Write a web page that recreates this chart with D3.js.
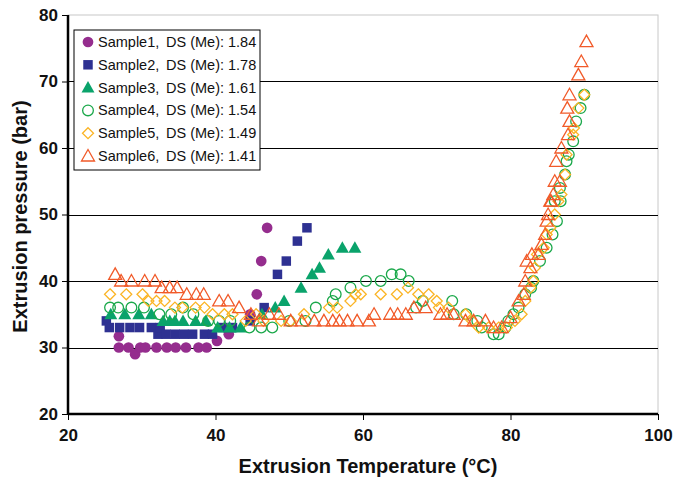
<!DOCTYPE html>
<html>
<head>
<meta charset="utf-8">
<script src="https://cdn.jsdelivr.net/npm/d3@7"></script>
<style>
  body { margin: 0; background: #fff; }
  svg { font-family: "Liberation Sans", Arial, sans-serif; }
</style>
</head>
<body>
<div class="chart"></div>
<script>
const xTicks = [20, 40, 60, 80, 100];
const yTicks = [20, 30, 40, 50, 60, 70, 80];

const seriesNames = ["Sample1", "Sample2", "Sample3", "Sample4", "Sample5", "Sample6"];
const dsValues = ["1.84", "1.78", "1.61", "1.54", "1.49", "1.41"];

const sample1 = [[26.9,31.7],[26.9,30],[28.2,30],[29.1,29],[29.8,30],[30.5,30],[32,30],[33.4,30],[34.6,30],[36,30],[37.7,30],[38.8,30],[40.2,31],[41.8,32],[44.7,35],[45.6,38],[46.2,43],[47,48]];
const sample2 = [[25.2,34],[25.6,33],[27,33],[28.4,33],[29.7,33],[31.3,33],[32.2,32],[32.5,33],[33.3,32],[34.5,32],[35.7,32],[36.9,32],[38.5,32],[39.6,32],[41,33],[42.3,33],[44.7,34],[46.6,36],[48.4,41],[49.6,43],[51.1,46],[52.4,48]];
const sample3 = [[25.8,35],[27.7,35],[29.6,35],[31.3,35],[32.9,34],[33.8,34],[34.5,34],[35.6,34],[37.3,34],[38.7,34],[40.3,33],[41.9,33],[43.4,33],[46.3,35],[48.1,36],[49.3,37],[51.6,39],[53.1,41],[54.1,42],[55.3,44],[57.2,45],[58.9,45]];
const sample4 = [[25.7,36],[26.8,36],[28.6,36],[30.3,36],[32.4,35],[34,35],[35.6,36],[37,35],[39,34],[40.5,34],[42,34],[44.6,33],[46.2,33],[47.7,33],[50,34],[52.2,34],[53.6,36],[55.9,37],[56.3,38],[58.3,39],[60.4,40],[62.4,40],[63.9,41],[65.1,41],[66.2,40],[67.2,36],[68.1,37],[72.1,37],[72.3,35],[74,35],[75.5,34],[76.1,33],[77.7,32],[78.4,32],[79.3,33],[79.7,34],[80.4,35],[81.1,36],[82,38],[82.8,39],[83.1,40],[84,43],[84.9,45],[85.7,47],[86,52],[86.3,49],[86.7,54],[86.8,52],[87.4,56],[87.6,58],[87.9,59],[88.5,61],[88.9,64],[89.5,66],[90,68]];
const sample5 = [[25.7,38],[27.9,38],[30.1,38],[30.9,37],[32,37],[33.1,37],[34.5,36],[35.5,36],[37.3,36],[38.5,36],[39.6,35],[41.2,35],[42.3,35],[44.1,34],[45.5,35],[46.5,34],[48.9,34],[50.2,34],[52,35],[55.4,36],[56.5,36],[58.3,37],[59,38],[59.7,38],[62.4,38],[64.6,38],[66.1,39],[67.5,38],[68.9,38],[70,37],[70.3,36],[71.6,36],[73.9,35],[74.8,34],[75.7,33],[77,33],[78.4,33],[79.5,33],[80.6,34],[81.5,35],[82,37],[82.7,39],[83.1,40],[83.3,42],[83.6,44],[84.5,45],[84.9,47],[85.4,48],[86,50],[86.5,52],[86.9,53],[87.4,56],[87.6,59],[88.5,62],[88.6,63],[89.2,66],[90,68]];
const sample6 = [[26.4,41],[27.2,40],[28.6,40],[30.4,40],[31.8,40],[32.7,39],[33.8,39],[34.8,39],[36.1,38],[37.4,38],[38.4,38],[40.5,37],[41.7,37],[43.2,36],[44.8,35],[45.9,34],[47.3,35],[48.6,35],[50.2,34],[51.7,34],[53.4,34],[54.7,34],[55.9,34],[56.8,34],[57.9,34],[59.2,34],[60.8,34],[61.5,35],[63.7,35],[64.7,35],[65.8,35],[66.9,36],[68.5,36],[70.5,35],[71.4,35],[72.3,35],[73.9,34],[75,34],[76.6,34],[77.7,33],[78.8,33],[80,34.5],[81.1,37],[81.8,38],[82,40],[82.2,43],[82.7,42],[82.9,44],[83.8,44],[84.2,45.5],[84.7,47],[84.9,49],[85.1,50],[85.4,52],[85.5,52],[85.8,53],[86,55],[86.2,58],[86.7,55],[86.9,60],[87.7,66],[87.8,62],[88,64],[88,68],[89.2,71],[89.6,73],[90.3,76]];

const allSamples = [sample1, sample2, sample3, sample4, sample5, sample6];

// marker look per series
const styles = [
    {shape: "circle",   fill: "#952d8e", stroke: "none"},
    {shape: "square",   fill: "#2e3192", stroke: "none"},
    {shape: "triangle", fill: "#0aa36b", stroke: "none"},
    {shape: "circle",   fill: "none",    stroke: "#1aa84a"},
    {shape: "diamond",  fill: "none",    stroke: "#fbb424"},
    {shape: "triangle", fill: "none",    stroke: "#f15a29"}
];

const margin = {top: 15, left: 68, right: 18, bottom: 65};
const width = 676 - margin.left - margin.right,
    height = 479 - margin.top - margin.bottom;

const svg = d3.select(".chart")
    .append("svg")
    .attr("width", 676)
    .attr("height", 479);

const g = svg.append("g")
    .attr("transform", "translate(" + margin.left + "," + margin.top + ")");

const x = d3.scaleLinear().domain([20, 100]).range([0, width]);
const y = d3.scaleLinear().domain([20, 80]).range([height, 0]);

// plot area border (light)
g.append("rect")
    .attr("x", 0).attr("y", 0)
    .attr("width", width).attr("height", height)
    .attr("fill", "none")
    .attr("stroke", "#c8c8c8")
    .attr("stroke-width", 1);

// gridlines
g.append("g")
    .selectAll("line")
    .data(yTicks.filter(d => d > 20 && d < 80))
    .join("line")
    .attr("x1", 0).attr("x2", width)
    .attr("y1", d => Math.round(y(d)) + 0.5)
    .attr("y2", d => Math.round(y(d)) + 0.5)
    .attr("stroke", "#000")
    .attr("stroke-width", 1.2);

// axes
const xAxis = g.append("g")
    .attr("transform", "translate(0," + height + ")")
    .call(d3.axisBottom(x).tickValues(xTicks).tickSize(6).tickPadding(9));
const yAxis = g.append("g")
    .call(d3.axisLeft(y).tickValues(yTicks).tickSize(6).tickPadding(4));

[xAxis, yAxis].forEach(ax => {
    ax.select(".domain").attr("stroke", "#000").attr("stroke-width", 2.5);
    ax.selectAll(".tick line").attr("stroke", "#000").attr("stroke-width", 1);
    ax.selectAll(".tick text")
        .attr("fill", "#111")
        .style("font-size", "17px")
        .style("font-weight", "bold")
        .style("font-family", "'Liberation Sans', Arial, sans-serif");
});
xAxis.select(".domain").attr("d", "M0,0H" + width);
yAxis.select(".domain").attr("d", "M0," + height + "V0");

// axis titles
svg.append("text")
    .attr("x", margin.left + width / 2 + 5)
    .attr("y", 473)
    .attr("text-anchor", "middle")
    .style("font-size", "20px")
    .style("font-weight", "bold")
    .attr("fill", "#111")
    .text("Extrusion Temperature (°C)");

svg.append("text")
    .attr("transform", "translate(27," + (margin.top + height / 2 + 2) + ") rotate(-90)")
    .attr("text-anchor", "middle")
    .style("font-size", "20px")
    .style("font-weight", "bold")
    .attr("fill", "#111")
    .text("Extrusion pressure (bar)");

function markerPath(shape) {
    if (shape === "circle") return d3.symbol(d3.symbolCircle, 90)();
    if (shape === "square") return d3.symbol(d3.symbolSquare, 90)();
    if (shape === "triangle") return "M0,-6.5L6.5,5L-6.5,5Z";
    return "M0,-5.5L5.5,0L0,5.5L-5.5,0Z";
}

// points
allSamples.forEach((data, i) => {
    const st = styles[i];
    g.append("g")
        .attr("class", "series" + (i + 1))
        .selectAll("path")
        .data(data)
        .join("path")
        .attr("transform", d => "translate(" + x(d[0]) + "," + y(d[1]) + ")")
        .attr("d", markerPath(st.shape))
        .attr("fill", st.fill)
        .attr("stroke", st.stroke)
        .attr("stroke-width", st.stroke === "none" ? 0 : 1.3);
});

// legend
const legend = svg.append("g").attr("transform", "translate(74,30)");
legend.append("rect")
    .attr("width", 186).attr("height", 140)
    .attr("fill", "#fff")
    .attr("stroke", "#000")
    .attr("stroke-width", 1);

const rows = legend.selectAll("g.row")
    .data(seriesNames)
    .join("g")
    .attr("class", "row")
    .attr("transform", (d, i) => "translate(0," + (12 + i * 22.8) + ")");

rows.append("path")
    .attr("transform", "translate(14,0)")
    .attr("d", (d, i) => markerPath(styles[i].shape))
    .attr("fill", (d, i) => styles[i].fill)
    .attr("stroke", (d, i) => styles[i].stroke)
    .attr("stroke-width", (d, i) => styles[i].stroke === "none" ? 0 : 1.3);

rows.append("text")
    .attr("x", 24)
    .attr("y", 5)
    .style("font-size", "14.5px")
    .attr("fill", "#111")
    .text(d => d + ",");

rows.append("text")
    .attr("x", 92)
    .attr("y", 5)
    .style("font-size", "14.5px")
    .attr("fill", "#111")
    .text((d, i) => "DS (Me): " + dsValues[i]);
</script>
</body>
</html>
